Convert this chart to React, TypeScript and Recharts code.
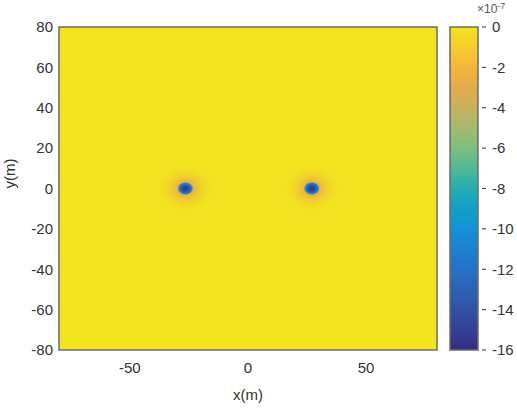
import React from 'react'
import {
  ScatterChart,
  Scatter,
  XAxis,
  YAxis,
  ReferenceArea,
} from 'recharts'

// point sources (x, y in metres), peak value in units of 1e-7
const SOURCE_X = [-26.5, 27]
const SOURCE_Y = [0, 0]
const SOURCE_PEAK = [-16, -16]

const X_TICKS = [-50, 0, 50]
const Y_TICKS = [-80, -60, -40, -20, 0, 20, 40, 60, 80]
const CBAR_TICKS = [-16, -14, -12, -10, -8, -6, -4, -2, 0]

// parula-like colormap, top (0) to bottom (-16)
const PARULA = [
  '#f6e31c', '#f8cd2d', '#f6b53a', '#e4ab4a', '#c8b05e', '#a5b96c', '#7cbe7e',
  '#4fb996', '#25adb0', '#139fcb', '#1193d6', '#1b83d2', '#2672c4', '#2b62b6',
  '#3052a7', '#343f97', '#352d86',
]

const FIELD = '#f2e41f'
const FRAME = '#6b6b6b'
const TEXT = '#333333'
const FONT = '"Liberation Sans", Arial, sans-serif'

const sources = SOURCE_X.map((x, i) => ({ x, y: SOURCE_Y[i], v: SOURCE_PEAK[i] }))
const cbarPoints = CBAR_TICKS.map(y => ({ x: 0.5, y }))

function SourceSpot(props: any) {
  const { cx, cy } = props
  if (cx == null || cy == null) return null
  return (
    <ellipse cx={cx} cy={cy} rx={30} ry={25} fill="url(#spot)" />
  )
}

function NoDot() {
  return null
}

function CbarTick(props: any) {
  const { x, y, payload } = props
  return (
    <g>
      <line x1={x - 4} x2={x} y1={y} y2={y} stroke="#333" strokeWidth={1} />
      <text x={x + 6} y={y} dy="0.35em" fontSize={15} fill={TEXT} fontFamily={FONT}>
        {payload.value}
      </text>
    </g>
  )
}

export default function App() {
  return (
    <div style={{ position: 'absolute', left: 0, top: 0, width: 517, height: 410, background: '#fff', fontFamily: FONT }}>
      <div style={{ position: 'absolute', left: 0, top: 0 }}>
        <ScatterChart width={450} height={410} margin={{ top: 27, right: 13, bottom: 0, left: 0 }}>
          <defs>
            <radialGradient id="spot">
              <stop offset="0" stopColor="#2a3590" />
              <stop offset="0.12" stopColor="#2b4eae" />
              <stop offset="0.22" stopColor="#1d8ccf" />
              <stop offset="0.26" stopColor="#e8b440" stopOpacity={1} />
              <stop offset="0.45" stopColor="#f0bf38" stopOpacity={0.7} />
              <stop offset="0.75" stopColor="#f3cf2c" stopOpacity={0.3} />
              <stop offset="1" stopColor={FIELD} stopOpacity={0} />
            </radialGradient>
          </defs>
          <XAxis
            type="number"
            dataKey="x"
            domain={[-80, 80]}
            ticks={X_TICKS}
            height={60}
            tickLine={false}
            axisLine={false}
            tickSize={0}
            tickMargin={12}
            tick={{ fill: TEXT, fontSize: 15, fontFamily: FONT }}
            label={{ value: 'x(m)', position: 'insideBottom', offset: 10, fill: TEXT, fontSize: 15, fontFamily: FONT }}
          />
          <YAxis
            type="number"
            dataKey="y"
            domain={[-80, 80]}
            ticks={Y_TICKS}
            width={59}
            tickLine={false}
            axisLine={false}
            tickSize={0}
            tickMargin={6}
            interval={0}
            tick={{ fill: TEXT, fontSize: 15, fontFamily: FONT }}
            label={{ value: 'y(m)', angle: -90, position: 'insideLeft', offset: 10, fill: TEXT, fontSize: 15, fontFamily: FONT }}
          />
          <ReferenceArea x1={-80} x2={80} y1={-80} y2={80} fill={FIELD} fillOpacity={1} stroke={FRAME} strokeWidth={1.5} />
          <Scatter data={sources} shape={<SourceSpot />} isAnimationActive={false} />
        </ScatterChart>
      </div>
      <div style={{ position: 'absolute', left: 440, top: 0 }}>
        <ScatterChart width={77} height={410} margin={{ top: 27, right: 0, bottom: 60, left: 10 }}>
          <defs>
            <linearGradient id="parula" x1="0" y1="0" x2="0" y2="1">
              {PARULA.map((c, i) => (
                <stop key={i} offset={i / (PARULA.length - 1)} stopColor={c} />
              ))}
            </linearGradient>
          </defs>
          <XAxis type="number" dataKey="x" domain={[0, 1]} hide />
          <YAxis
            type="number"
            dataKey="y"
            orientation="right"
            domain={[-16, 0]}
            ticks={CBAR_TICKS}
            interval={0}
            width={39}
            axisLine={false}
            tickLine={false}
            tick={<CbarTick />}
          />
          <ReferenceArea x1={0} x2={1} y1={-16} y2={0} fill="url(#parula)" fillOpacity={1} stroke={FRAME} strokeWidth={1.5} />
          <Scatter data={cbarPoints} shape={<NoDot />} isAnimationActive={false} />
        </ScatterChart>
      </div>
      <div style={{ position: 'absolute', left: 477, top: 2, fontSize: 12, lineHeight: '12px', color: '#555', fontFamily: FONT }}>
        ×10<sup style={{ fontSize: 9, lineHeight: '9px', verticalAlign: 4 }}>-7</sup>
      </div>
    </div>
  )
}
